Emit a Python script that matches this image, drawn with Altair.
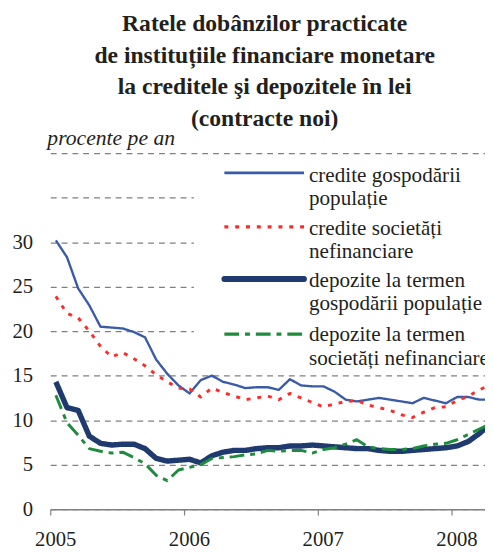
import altair as alt
import pandas as pd

# ---- data (monthly, Jan 2005 - Apr 2008) ----
months = [f"{y}-{m:02d}" for y in (2005, 2006, 2007, 2008) for m in range(1, 13)][:40]

credite_gosp = [30.2, 28.3, 24.8, 22.9, 20.5, 20.4, 20.3, 19.9, 19.3, 16.8, 15.2, 13.9,
                13.0, 14.5, 15.0, 14.3, 14.0, 13.6, 13.7, 13.7, 13.4, 14.6, 13.9, 13.8,
                13.8, 13.2, 12.3, 12.1, 12.3, 12.5, 12.3, 12.1, 11.9, 12.5, 12.2, 11.9,
                12.6, 12.6, 12.3, 12.3]
credite_soc = [23.9, 22.0, 21.5, 20.0, 18.3, 17.1, 17.6, 16.9, 16.1, 15.1, 14.3, 13.6,
               13.5, 12.6, 13.6, 13.1, 12.7, 12.3, 12.5, 12.7, 12.3, 13.0, 12.5, 12.0,
               11.5, 11.8, 12.1, 12.2, 11.7, 11.4, 11.1, 10.6, 10.3, 10.9, 11.4, 11.5,
               12.2, 12.7, 13.4, 14.0]
depozite_gosp = [14.3, 11.4, 11.1, 8.2, 7.4, 7.2, 7.3, 7.3, 6.8, 5.7, 5.4, 5.5,
                 5.6, 5.2, 6.0, 6.4, 6.6, 6.6, 6.8, 6.9, 6.9, 7.1, 7.1, 7.2,
                 7.1, 7.0, 6.9, 6.8, 6.8, 6.6, 6.5, 6.5, 6.6, 6.7, 6.8, 6.9,
                 7.1, 7.6, 8.5, 9.6]
depozite_soc = [12.8, 9.7, 8.3, 6.8, 6.5, 6.3, 6.4, 5.8, 5.1, 3.8, 3.2, 4.4,
                4.7, 5.0, 5.7, 5.8, 5.9, 6.1, 6.2, 6.6, 6.5, 6.6, 6.6, 6.3,
                6.7, 6.9, 7.3, 7.8, 7.0, 6.8, 6.7, 6.7, 6.8, 7.1, 7.3, 7.4,
                7.8, 8.4, 9.0, 9.6]

series_keys = ["cg", "cs", "dg", "ds"]
series_values = [credite_gosp, credite_soc, depozite_gosp, depozite_soc]
legend_labels = [
    "credite gospodării\npopulație",
    "credite societăți\nnefinanciare",
    "depozite la termen\ngospodării populație",
    "depozite la termen\nsocietăți nefinanciare",
]
colors = ["#3a5ba8", "#ff2b2b", "#1f3a6e", "#1e8c3c"]
widths = [2.4, 3, 5.5, 3]
dashes = [[1, 0], [4, 7], [1, 0], [15, 6, 5, 6]]

title_lines = [
    "Ratele dobânzilor practicate",
    "de instituțiile financiare monetare",
    "la creditele şi depozitele în lei",
    "(contracte noi)",
]
year_ticks = [2005, 2006, 2007, 2008]
y_ticks = [0, 5, 10, 15, 20, 25, 30, 35, 40]

rows = []
for key, vals in zip(series_keys, series_values):
    for mo, v in zip(months, vals):
        yy, mm = mo.split("-")
        rows.append({"s": key, "t": int(yy) + (int(mm) - 0.5) / 12, "v": v})
df = pd.DataFrame(rows)

FONT = "Liberation Serif"
TXT = "#231f20"

x_enc = alt.X("t:Q", scale=alt.Scale(domain=[2005, 2008.25], nice=False, zero=False),
              axis=alt.Axis(values=year_ticks, format="d", grid=False, title=None,
                            domainColor="#808080", domainWidth=1.5,
                            tickColor="#808080", tickSize=6, tickWidth=1.2,
                            labelFont=FONT, labelFontSize=21, labelColor=TXT,
                            labelPadding=14, labelOffset=5, labelFlush=False))
y_enc = alt.Y("v:Q", scale=alt.Scale(domain=[0, 40], nice=False),
              axis=alt.Axis(values=y_ticks, grid=True, gridDash=[6, 5], gridColor="#808080",
                            gridWidth=1.2, domain=False, ticks=False, tickSize=0,
                            labelExpr="datum.value <= 30 ? datum.label : ''",
                            labelFont=FONT, labelFontSize=21, labelColor=TXT,
                            labelPadding=18, title=None))

layers = []
for i, key in enumerate(series_keys):
    enc = dict(x=x_enc, y=y_enc) if i == 0 else dict(x="t:Q", y="v:Q")
    layers.append(
        alt.Chart(df).transform_filter(alt.datum.s == key)
        .mark_line(clip=True, color=colors[i], strokeWidth=widths[i],
                   strokeDash=dashes[i], strokeJoin="round", strokeCap="butt")
        .encode(**enc)
    )

one = pd.DataFrame({"a": [0]})

# legend background
layers.append(alt.Chart(one).mark_rect(fill="white").encode(
    x=alt.value(146), x2=alt.value(444), y=alt.value(5), y2=alt.value(221)))

sym_y = [20, 75, 128, 184]
txt_y = [29, 83, 136, 191]
for i in range(4):
    layers.append(alt.Chart(one).mark_rule(color=colors[i], strokeWidth=widths[i] + 0.4,
                                          strokeDash=dashes[i], strokeCap="round" if i == 2 else "butt")
                  .encode(x=alt.value(177), x2=alt.value(258), y=alt.value(sym_y[i])))
    layers.append(alt.Chart(one).mark_text(align="left", baseline="alphabetic", lineBreak="\n",
                                          lineHeight=24, font=FONT, fontSize=21.5, color=TXT)
                  .encode(x=alt.value(263), y=alt.value(txt_y[i]), text=alt.value(legend_labels[i])))

layers.append(alt.Chart(one).mark_text(align="left", baseline="alphabetic", font=FONT,
                                      fontSize=22, fontStyle="italic", color=TXT)
              .encode(x=alt.value(-3), y=alt.value(-8), text=alt.value("procente pe an")))

chart = alt.layer(*layers).properties(
    width=442, height=362,
    title=alt.Title(text=title_lines, font=FONT, fontSize=24, fontWeight="bold", color=TXT,
                    lineHeight=32, anchor="middle", frame="group", offset=-3, dx=-3),
    autosize=alt.AutoSizeParams(type="none"),
    padding={"left": 43, "top": 143, "right": 0, "bottom": 38},
).configure_view(stroke=None)

chart.save("out.html", embed_options={"renderer": "svg", "actions": False})
